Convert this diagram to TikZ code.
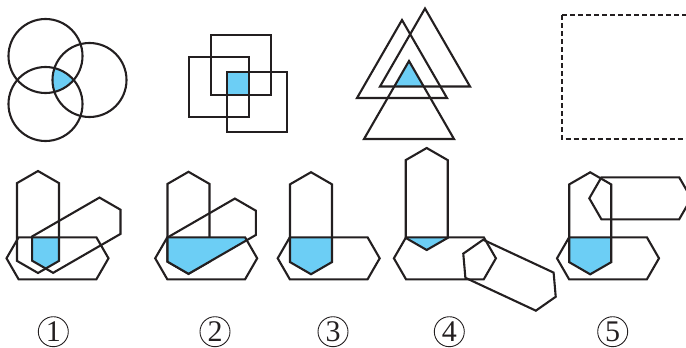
\documentclass[tikz,border=0pt]{standalone}
\usepackage{fontspec}
\setmainfont{Liberation Serif}
\definecolor{skyfill}{RGB}{108,206,245}
\definecolor{ink}{RGB}{35,31,32}
\newcommand{\hexpts}{(51,0)--(38.88,21)--(-38.88,21)--(-51,0)--(-38.88,-21)--(38.88,-21)--cycle}
\newcommand{\tripts}[1]{(#1)--++(-45,-78)--++(90,0)--cycle}
\tikzset{
  outline/.style={draw=ink,line width=2.1pt},
  hexat/.style 2 args={shift={(#1)},rotate=#2},
  numlabel/.style={circle,draw=ink,line width=0.9pt,minimum size=30pt,inner sep=0pt,text=ink,font=\fontsize{30}{30}\selectfont}
}
\begin{document}
\begin{tikzpicture}[x=1pt,y=1pt]
\path[use as bounding box,clip] (0,0) rectangle (686,-348);
\coordinate (P) at (45.5,-56); \coordinate (Q) at (45.5,-104); \coordinate (R) at (89.5,-80);
\begin{scope}\clip (P) circle (37pt); \clip (Q) circle (37pt); \fill[skyfill] (R) circle (37pt);\end{scope}
\foreach \c in {P,Q,R}{\draw[outline] (\c) circle (37pt);}
\coordinate (S1) at (211,-35); \coordinate (S2) at (189,-57); \coordinate (S3) at (227,-72);
\fill[skyfill] (S3) rectangle (249,-95);
\foreach \s in {S1,S2,S3}{\draw[outline] (\s) rectangle ++(60,-60);}
\coordinate (TA) at (402,-20); \coordinate (TB) at (425,-8.5); \coordinate (TC) at (409,-61);
\begin{scope}\clip \tripts{TA}; \clip \tripts{TB}; \fill[skyfill] \tripts{TC};\end{scope}
\foreach \t in {TA,TB,TC}{\draw[outline] \tripts{\t};}
\draw[ink,line width=1.9pt,dash pattern=on 5pt off 3pt] (562,-15) rectangle (700,-139.3);
% 1
\begin{scope}\clip[hexat={38,-222}{90}] \hexpts; \clip[hexat={57.5,-258.3}{0}] \hexpts; \fill[skyfill,hexat={76.3,-235.2}{30}] \hexpts;\end{scope}
\foreach \x/\y/\r in {38/-222/90,57.5/-258.3/0,76.3/-235.2/30}{\draw[outline,hexat={\x,\y}{\r}] \hexpts;}
% 2
\draw[outline,hexat={188.5,-222.8}{90}] \hexpts;
\begin{scope}\clip[hexat={206.2,-258.3}{0}] \hexpts; \fill[skyfill,hexat={211.7,-236.2}{30}] \hexpts;\end{scope}
\foreach \x/\y/\r in {206.2/-258.3/0,211.7/-236.2/30}{\draw[outline,hexat={\x,\y}{\r}] \hexpts;}
% 3
\begin{scope}\clip[hexat={311,-223.2}{90}] \hexpts; \fill[skyfill,hexat={328.7,-258.3}{0}] \hexpts;\end{scope}
\foreach \x/\y/\r in {311/-223.2/90,328.7/-258.3/0}{\draw[outline,hexat={\x,\y}{\r}] \hexpts;}
% 4
\begin{scope}\clip[hexat={426.7,-199}{90}] \hexpts; \fill[skyfill,hexat={444.9,-258.3}{0}] \hexpts;\end{scope}
\foreach \x/\y/\r in {426.7/-199/90,444.9/-258.3/0,509.5/-275.2/-25}{\draw[outline,hexat={\x,\y}{\r}] \hexpts;}
% 5
\begin{scope}\clip[hexat={590.2,-223.3}{90}] \hexpts; \fill[skyfill,hexat={608,-258.3}{0}] \hexpts;\end{scope}
\foreach \x/\y/\r in {590.2/-223.3/90,608/-258.3/0,640.3/-198.3/0}{\draw[outline,hexat={\x,\y}{\r}] \hexpts;}
\foreach \n/\x in {1/53.3,2/215,3/333,4/449.3,5/612.7}{\node[numlabel] (num\n) at (\x,-331.7) {\n};}
\end{tikzpicture}
\end{document}
